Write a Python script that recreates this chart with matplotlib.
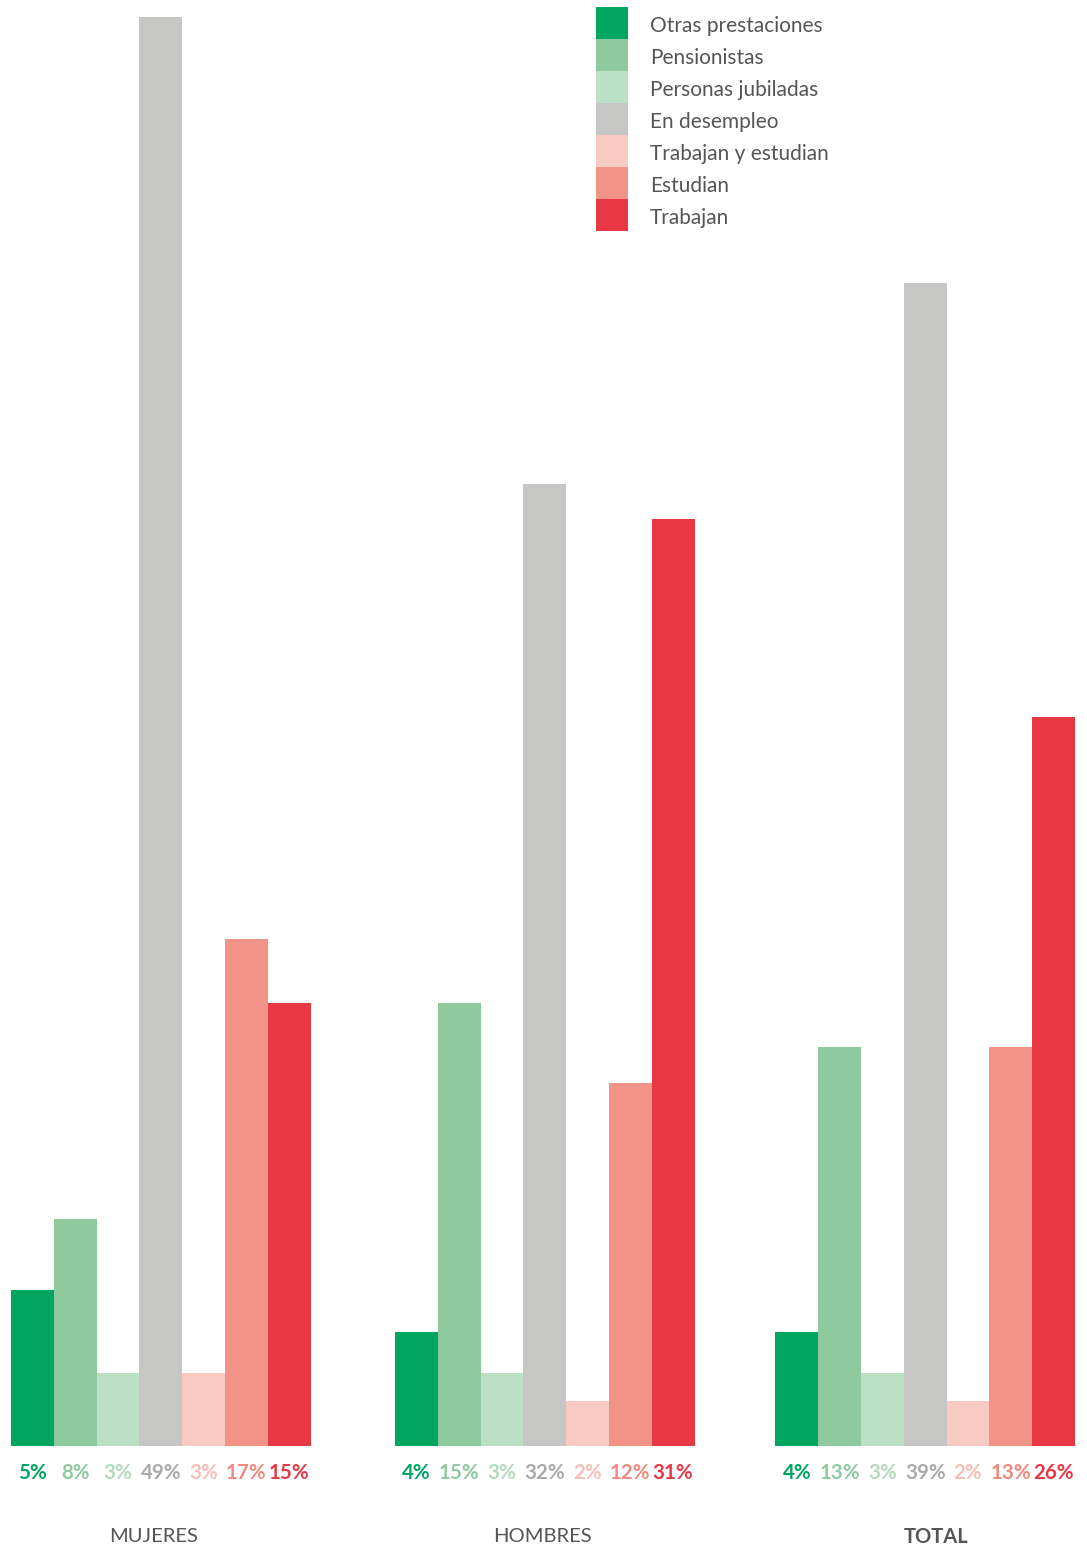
import matplotlib
matplotlib.use("Agg")
import matplotlib.pyplot as plt
from matplotlib.patches import Rectangle

plt.rcParams['font.family'] = ['Lato', 'DejaVu Sans']

groups = ["MUJERES", "HOMBRES", "TOTAL"]
series = ["Otras prestaciones", "Pensionistas", "Personas jubiladas", "En desempleo",
          "Trabajan y estudian", "Estudian", "Trabajan"]
colors = ["#00A560", "#8FC99E", "#BCE0C4", "#C6C6C5", "#F9CAC2", "#F19387", "#E83843"]
label_colors = ["#00A560", "#8FC99E", "#B3DAB9", "#AAAAAA", "#F7BFB6", "#F08A7E", "#E83843"]

# bar heights (percent)
heights = [
    [5.35, 7.8, 2.5, 49.0, 2.5, 17.4, 15.2],   # Mujeres
    [3.9, 15.2, 2.5, 33.0, 1.55, 12.45, 31.8],  # Hombres
    [3.9, 13.7, 2.5, 39.9, 1.55, 13.7, 25.0],   # Total
]
# printed labels
labels = [
    ["5%", "8%", "3%", "49%", "3%", "17%", "15%"],
    ["4%", "15%", "3%", "32%", "2%", "12%", "31%"],
    ["4%", "13%", "3%", "39%", "2%", "13%", "26%"],
]

W, H = 1087, 1546
fig = plt.figure(figsize=(W / 100, H / 100), dpi=100)
base = 1446
ax = fig.add_axes([0, 1 - base / H, 1, base / H])
ax.set_xlim(-0.257, 25.14)
ax.set_ylim(0, 49.59)
ax.axis("off")

group_offsets = [0, 8.97, 17.86]
for g, (gname, hs, ls) in enumerate(zip(groups, heights, labels)):
    for i, (h, lab) in enumerate(zip(hs, ls)):
        x = group_offsets[g] + i
        ax.bar(x, h, width=1.0, align="edge", color=colors[i], linewidth=0)
        ax.text(x + 0.5, -0.92, lab, ha="center", va="center", fontsize=14.8,
                fontweight="bold", color=label_colors[i], clip_on=False)

group_x = [3.34, 12.41, 21.61]
for g, gname in enumerate(groups):
    ax.text(group_x[g], -3.12, gname, ha="center", va="center", fontsize=14.5,
            color="#555555", fontweight="bold" if gname == "TOTAL" else "normal",
            clip_on=False)

# legend
lx, lw, lh, ly0 = 596, 32, 32, 7
for i, (name, c) in enumerate(zip(series, colors)):
    y = ly0 + i * lh
    fig.add_artist(Rectangle((lx / W, 1 - (y + lh) / H), lw / W, lh / H,
                             transform=fig.transFigure, color=c, linewidth=0))
    fig.text(650 / W, 1 - (y + lh / 2 + 2.5) / H, name, ha="left", va="center",
             fontsize=15, color="#555555")

fig.savefig("out.png", dpi=100)
